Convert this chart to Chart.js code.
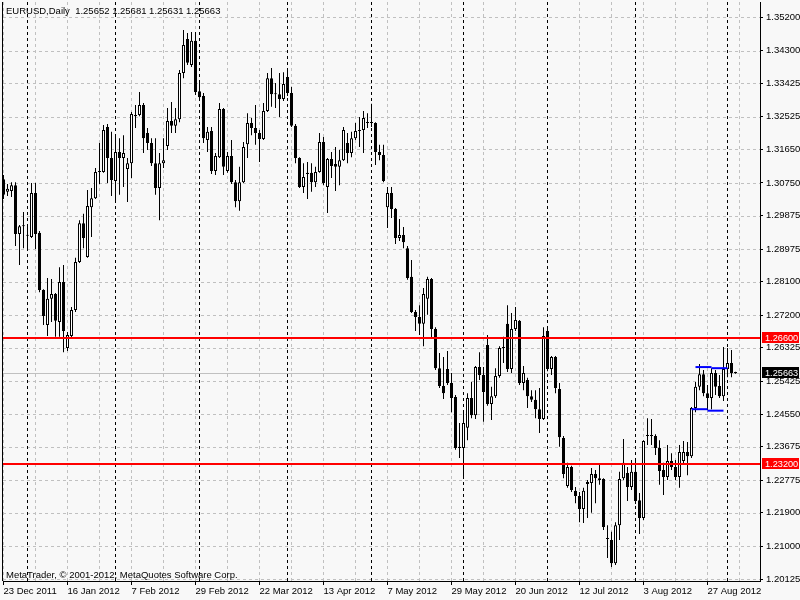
<!DOCTYPE html>
<html><head><meta charset="utf-8">
<script src="https://cdn.jsdelivr.net/npm/chart.js@4.4.1/dist/chart.umd.min.js"></script>
<style>html,body{margin:0;padding:0;background:#f8f8f8;overflow:hidden}canvas{display:block}</style>
</head><body>
<canvas id="c" width="800" height="600" style="width:800px;height:600px"></canvas>
<script>
// ---------------- data ----------------
const symbolTitle = 'EURUSD,Daily';
const copyright = 'MetaTrader, \u00a9 2001-2012, MetaQuotes Software Corp.';

const opens = [
1.3085,1.3051,1.3053,1.3069,1.2938,1.2959,1.2933,1.2930,1.3048,1.2941,
1.2788,1.2694,1.2764,1.2777,1.2702,1.2809,1.2632,1.2664,1.2734,1.2863,
1.2967,1.2876,1.3010,1.3034,1.3104,1.3104,1.3225,1.3142,1.3080,1.3158,
1.3142,1.3112,1.3128,1.3254,1.3257,1.3284,1.3209,1.3182,1.3128,1.3061,
1.3128,1.3174,1.3241,1.3228,1.3246,1.3370,1.3461,1.3391,1.3456,1.3321,
1.3308,1.3190,1.3214,1.3107,1.3144,1.3273,1.3107,1.3147,1.3077,1.3026,
1.3077,1.3179,1.3236,1.3222,1.3209,1.3193,1.3268,1.3356,1.3313,1.3313,
1.3300,1.3359,1.3316,1.3228,1.3142,1.3064,1.3099,1.3102,1.3077,1.3104,
1.3185,1.3064,1.3139,1.3126,1.3118,1.3136,1.3182,1.3155,1.3195,1.3214,
1.3217,1.3236,1.3236,1.3236,1.3158,1.3150,1.3010,1.3048,1.3005,1.2927,
1.2935,1.2900,1.2823,1.2729,1.2715,1.2697,1.2764,1.2817,1.2683,1.2578,
1.2530,1.2576,1.2538,1.2501,1.2364,1.2364,1.2418,1.2498,1.2452,1.2581,
1.2560,1.2640,1.2482,1.2503,1.2557,1.2632,1.2697,1.2576,1.2683,1.2705,
1.2538,1.2546,1.2503,1.2493,1.2468,1.2442,1.2678,1.2576,1.2608,1.2522,
1.2391,1.2262,1.2313,1.2249,1.2235,1.2200,1.2267,1.2270,1.2294,1.2283,
1.2281,1.2120,1.2117,1.2055,1.2157,1.2283,1.2297,1.2259,1.2300,1.2224,
1.2176,1.2396,1.2396,1.2396,1.2364,1.2305,1.2286,1.2329,1.2313,1.2286,
1.2329,1.2353,1.2342,1.2471,1.2528,1.2562,1.2511,1.2498,1.2565,1.2530,
1.2503,1.2576,1.2592,1.25652];

const highs = [
1.3096,1.3072,1.3077,1.3077,1.2962,1.2997,1.2959,1.3075,1.3075,1.2946,
1.2790,1.2820,1.2817,1.2780,1.2849,1.2855,1.2675,1.2742,1.2874,1.2975,
1.2992,1.3056,1.3061,1.3115,1.3182,1.3230,1.3233,1.3212,1.3203,1.3195,
1.3203,1.3142,1.3265,1.3284,1.3319,1.3289,1.3222,1.3195,1.3195,1.3155,
1.3195,1.3276,1.3292,1.3276,1.3378,1.3485,1.3477,1.3480,1.3480,1.3351,
1.3316,1.3225,1.3225,1.3155,1.3289,1.3276,1.3158,1.3190,1.3083,1.3118,
1.3185,1.3262,1.3249,1.3284,1.3217,1.3289,1.3370,1.3383,1.3343,1.3370,
1.3372,1.3383,1.3332,1.3233,1.3144,1.3128,1.3131,1.3128,1.3118,1.3209,
1.3198,1.3142,1.3158,1.3171,1.3163,1.3225,1.3209,1.3212,1.3236,1.3252,
1.3268,1.3262,1.3287,1.3238,1.3177,1.3177,1.3064,1.3064,1.3008,1.2978,
1.2957,1.2906,1.2868,1.2734,1.2747,1.2793,1.2823,1.2820,1.2688,1.2619,
1.2608,1.2624,1.2565,1.2506,1.2431,1.2458,1.2511,1.2541,1.2584,1.2621,
1.2581,1.2667,1.2528,1.2578,1.2637,1.2662,1.2747,1.2726,1.2742,1.2707,
1.2584,1.2552,1.2519,1.2519,1.2525,1.2688,1.2688,1.2611,1.2611,1.2538,
1.2396,1.2324,1.2316,1.2259,1.2246,1.2257,1.2278,1.2310,1.2305,1.2318,
1.2283,1.2157,1.2139,1.2165,1.2300,1.2388,1.2313,1.2332,1.2337,1.2243,
1.2385,1.2444,1.2442,1.2401,1.2385,1.2324,1.2372,1.2350,1.2332,1.2372,
1.2383,1.2380,1.2474,1.2541,1.2589,1.2573,1.2533,1.2578,1.2573,1.2560,
1.2635,1.2632,1.2627,1.25681];

const lows = [
1.3032,1.3040,1.3037,1.2906,1.2855,1.2900,1.2898,1.2927,1.2898,1.2782,
1.2694,1.2664,1.2702,1.2662,1.2662,1.2621,1.2624,1.2659,1.2729,1.2860,
1.2900,1.2874,1.2930,1.3032,1.3072,1.3102,1.3075,1.3040,1.3021,1.3043,
1.3064,1.3024,1.3088,1.3222,1.3254,1.3155,1.3163,1.3120,1.3043,1.2975,
1.3115,1.3163,1.3209,1.3209,1.3238,1.3356,1.3391,1.3386,1.3311,1.3297,
1.3182,1.3158,1.3099,1.3096,1.3142,1.3096,1.3102,1.3072,1.3010,1.3000,
1.3075,1.3142,1.3203,1.3177,1.3131,1.3190,1.3265,1.3279,1.3276,1.3252,
1.3295,1.3308,1.3225,1.3128,1.3061,1.3048,1.3032,1.3051,1.3064,1.3102,
1.3069,1.2994,1.3088,1.3053,1.3069,1.3134,1.3128,1.3144,1.3190,1.3171,
1.3155,1.3222,1.3225,1.3123,1.3136,1.3077,1.2954,1.2981,1.2911,1.2919,
1.2900,1.2815,1.2726,1.2678,1.2667,1.2637,1.2721,1.2656,1.2573,1.2525,
1.2495,1.2533,1.2460,1.2359,1.2337,1.2289,1.2385,1.2444,1.2442,1.2546,
1.2434,1.2477,1.2439,1.2498,1.2552,1.2592,1.2568,1.2565,1.2678,1.2533,
1.2519,1.2471,1.2487,1.2444,1.2404,1.2439,1.2570,1.2560,1.2511,1.2367,
1.2283,1.2257,1.2246,1.2216,1.2165,1.2163,1.2176,1.2190,1.2216,1.2265,
1.2144,1.2069,1.2045,1.2050,1.2117,1.2278,1.2222,1.2251,1.2214,1.2133,
1.2171,1.2372,1.2372,1.2345,1.2265,1.2238,1.2278,1.2305,1.2278,1.2257,
1.2318,1.2291,1.2337,1.2460,1.2519,1.2503,1.2466,1.2468,1.2506,1.2498,
1.2490,1.2554,1.2554,1.25631];

const closes = [
1.3043,1.3059,1.3069,1.2938,1.2959,1.2959,1.2935,1.3048,1.2938,1.2788,
1.2718,1.2764,1.2777,1.2705,1.2809,1.2678,1.2667,1.2734,1.2863,1.2967,
1.2927,1.3013,1.3034,1.3104,1.3107,1.3217,1.3142,1.3083,1.3158,1.3142,
1.3155,1.3128,1.3260,1.3257,1.3284,1.3195,1.3182,1.3128,1.3061,1.3128,
1.3136,1.3241,1.3228,1.3246,1.3370,1.3445,1.3397,1.3456,1.3319,1.3305,
1.3195,1.3212,1.3107,1.3147,1.3273,1.3118,1.3147,1.3077,1.3026,1.3077,
1.3171,1.3236,1.3222,1.3209,1.3193,1.3268,1.3356,1.3313,1.3313,1.3300,
1.3340,1.3316,1.3228,1.3142,1.3064,1.3091,1.3102,1.3077,1.3104,1.3185,
1.3075,1.3139,1.3120,1.3118,1.3136,1.3217,1.3155,1.3195,1.3214,1.3217,
1.3249,1.3236,1.3236,1.3158,1.3150,1.3080,1.3048,1.3005,1.2927,1.2935,
1.2916,1.2820,1.2729,1.2715,1.2697,1.2777,1.2817,1.2683,1.2578,1.2530,
1.2511,1.2538,1.2498,1.2364,1.2367,1.2431,1.2498,1.2452,1.2581,1.2560,
1.2514,1.2482,1.2503,1.2557,1.2632,1.2635,1.2576,1.2683,1.2707,1.2538,
1.2565,1.2503,1.2493,1.2468,1.2442,1.2664,1.2576,1.2608,1.2525,1.2393,
1.2294,1.2313,1.2251,1.2235,1.2200,1.2249,1.2273,1.2294,1.2283,1.2278,
1.2152,1.2120,1.2055,1.2157,1.2281,1.2324,1.2259,1.2300,1.2222,1.2176,
1.2383,1.2396,1.2396,1.2364,1.2302,1.2286,1.2329,1.2313,1.2286,1.2353,
1.2353,1.2342,1.2471,1.2528,1.2562,1.2511,1.2498,1.2565,1.2528,1.2503,
1.2576,1.2592,1.2565,1.25663];

const xTickIndex  = [0,16,32,48,64,80,96,112,128,144,160,176];
const xTickLabels = ['23 Dec 2011','16 Jan 2012','7 Feb 2012','29 Feb 2012','22 Mar 2012','13 Apr 2012',
                     '7 May 2012','29 May 2012','20 Jun 2012','12 Jul 2012','3 Aug 2012','27 Aug 2012'];
const monthStarts = [6,28,49,71,92,115,136,158,181];
const yTicks = [1.35200,1.34300,1.33425,1.32525,1.31650,1.30750,1.29875,1.28975,1.28100,
                1.27200,1.26325,1.25425,1.24550,1.23675,1.22775,1.21900,1.21000,1.20125];
const redLevels = [1.26600, 1.23200];
const bidPrice = 1.25663;
// blue segments: [fromBar, toBar, price]
const blueSegments = [[173,177,1.2581],[177,181,1.2578],[172,176,1.2468],[176,180,1.2464]];

// ---------------- fonts ----------------
function fontAvailable(name){
  const c=document.createElement('canvas').getContext('2d');
  const s='1.25652 EURUSD Aug Dec';
  c.font='20px monospace'; const w1=c.measureText(s).width;
  c.font='20px "'+name+'", monospace'; const w2=c.measureText(s).width;
  return Math.abs(w1-w2)>0.5;
}
const hasNarrow = fontAvailable('Liberation Sans Narrow');
const FAMILY = hasNarrow ? '"Liberation Sans Narrow", "Liberation Sans", sans-serif' : '"Liberation Sans", Arial, sans-serif';
const FSIZE = hasNarrow ? 11 : 9.5;
const FONT = FSIZE + 'px ' + FAMILY;
const BOXFONT = (hasNarrow ? 11 : 9.2) + 'px ' + FAMILY;
Chart.defaults.font.family = FAMILY;
Chart.defaults.font.size = FSIZE;
Chart.defaults.color = '#000';

// ---------------- datasets ----------------
const idx = opens.map((_, i) => i);
const wickData = idx.map(i => ({x: i, y: [lows[i], highs[i]]}));
const bodyData = idx.map(i => ({x: i, y: [opens[i], closes[i]]}));
const isBull = i => closes[i] >= opens[i];

const datasets = [
  {type:'bar', data: bodyData, order: 1, barThickness: 3, grouped: false, minBarLength: 1,
   borderWidth: 1, borderSkipped: false, borderColor: '#000', inflateAmount: 0,
   backgroundColor: ctx => isBull(ctx.dataIndex) ? '#ffffff' : '#000000'},
  {type:'bar', data: wickData, order: 2, barThickness: 1, grouped: false, minBarLength: 1,
   borderWidth: 0, inflateAmount: 0, backgroundColor: '#000'}
];
blueSegments.forEach(s => datasets.push({
  type:'line', data:[{x:s[0], y:s[2]},{x:s[1], y:s[2]}], order: 0,
  borderColor:'#0000ff', borderWidth: 2, pointRadius: 0, fill: false, tension: 0
}));

// ---------------- plugin (grid, levels, texts) ----------------
const mt = {
  id: 'mt',
  beforeDatasetsDraw(chart){
    const {ctx, chartArea:a, scales:{x, y}} = chart;
    ctx.save();
    ctx.beginPath(); ctx.rect(a.left, a.top, a.right - a.left, a.bottom - a.top); ctx.clip();
    ctx.lineWidth = 1;
    ctx.strokeStyle = '#c0c0c0'; ctx.setLineDash([3,3]);
    yTicks.forEach(v => {
      const py = Math.round(y.getPixelForValue(v)) + 0.5;
      ctx.beginPath(); ctx.moveTo(a.left, py); ctx.lineTo(a.right, py); ctx.stroke();
    });
    for (let i = 0; i <= x.max; i += 8) {
      const px = Math.floor(x.getPixelForValue(i)) + 0.5;
      ctx.beginPath(); ctx.moveTo(px, a.top); ctx.lineTo(px, a.bottom); ctx.stroke();
    }
    ctx.strokeStyle = '#000'; ctx.setLineDash([3,3]);
    monthStarts.forEach(i => {
      const px = Math.floor(x.getPixelForValue(i)) + 0.5;
      ctx.beginPath(); ctx.moveTo(px, a.top); ctx.lineTo(px, a.bottom); ctx.stroke();
    });
    ctx.setLineDash([]); ctx.strokeStyle = '#c0c0c0';
    const pb = Math.round(y.getPixelForValue(bidPrice)) + 0.5;
    ctx.beginPath(); ctx.moveTo(a.left, pb); ctx.lineTo(a.right, pb); ctx.stroke();
    ctx.restore();
  },
  afterDatasetsDraw(chart){
    const {ctx, chartArea:a, scales:{y}} = chart;
    ctx.save();
    ctx.strokeStyle = '#ff0000'; ctx.lineWidth = 2;
    redLevels.forEach(v => {
      const py = Math.round(y.getPixelForValue(v));
      ctx.beginPath(); ctx.moveTo(a.left, py); ctx.lineTo(a.right, py); ctx.stroke();
    });
    ctx.restore();
  },
  afterDraw(chart){
    const {ctx, chartArea:a, scales:{y}} = chart;
    ctx.save();
    ctx.strokeStyle = '#000'; ctx.lineWidth = 1;
    ctx.beginPath(); ctx.moveTo(a.left - 0.5, a.top); ctx.lineTo(a.left - 0.5, a.bottom); ctx.stroke();
    ctx.font = FONT; ctx.textBaseline = 'alphabetic'; ctx.fillStyle = '#000';
    const n = opens.length - 1;
    ctx.fillText(symbolTitle + '  ' + [opens[n], highs[n], lows[n], closes[n]].map(v => v.toFixed(5)).join(' '), 6, 14);
    ctx.fillText(copyright, 6, 578);
    ctx.font = BOXFONT; ctx.textBaseline = 'middle';
    const box = (v, col) => {
      const py = Math.round(y.getPixelForValue(v));
      ctx.fillStyle = col; ctx.fillRect(a.right + 2, py - 6, 37, 11);
      ctx.fillStyle = '#fff'; ctx.fillText(v.toFixed(5), a.right + 5, py);
    };
    redLevels.forEach(v => box(v, '#ff0000'));
    box(bidPrice, '#000000');
    ctx.restore();
  }
};

new Chart(document.getElementById('c'), {
  type: 'bar',
  data: { datasets },
  plugins: [mt],
  options: {
    responsive: false, animation: false, events: [],
    layout: { padding: { left: 3, top: 2, right: 0, bottom: 0 } },
    plugins: { legend: { display: false }, tooltip: { enabled: false } },
    scales: {
      x: {
        type: 'linear', min: -0.125, max: 189.125, offset: false, bounds: 'data',
        grid: { display: true, drawOnChartArea: false, drawTicks: true, tickLength: 4, tickColor: '#000', offset: false },
        border: { display: true, color: '#000', width: 1 },
        ticks: { align: 'start', padding: 1, autoSkip: false, maxRotation: 0, color: '#000',
                 callback: v => xTickLabels[xTickIndex.indexOf(v)] },
        afterBuildTicks: s => { s.ticks = xTickIndex.map(v => ({ value: v })); },
        afterFit: s => { s.height = 19; s.paddingLeft = 0; s.paddingRight = 0; }
      },
      y: {
        type: 'linear', position: 'right', min: 1.200714, max: 1.356024, bounds: 'data', beginAtZero: false,
        grid: { display: true, drawOnChartArea: false, drawTicks: true, tickLength: 3, tickColor: '#000' },
        border: { display: true, color: '#000', width: 1 },
        ticks: { padding: 3, autoSkip: false, color: '#000', callback: v => v.toFixed(5) },
        afterBuildTicks: s => { s.ticks = yTicks.map(v => ({ value: v })); },
        afterFit: s => { s.width = 40; s.paddingTop = 0; s.paddingBottom = 0; }
      }
    }
  }
});
</script>
</body></html>
